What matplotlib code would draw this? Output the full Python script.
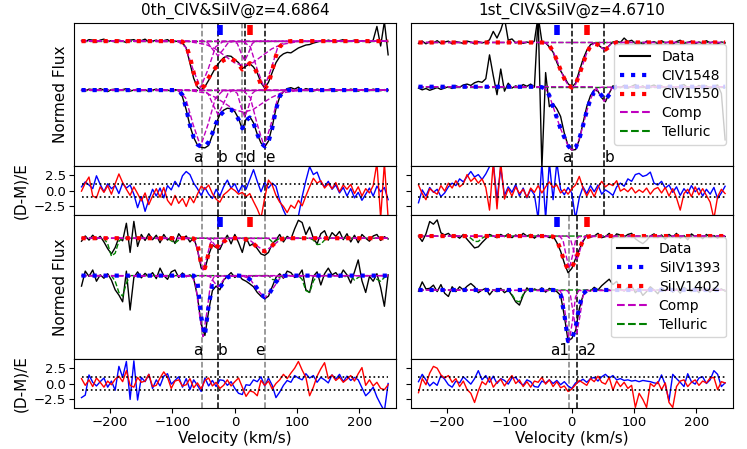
import numpy as np
import matplotlib
matplotlib.use('Agg')
import matplotlib.pyplot as plt

# velocity grid of the spectra (km/s)
vel = np.arange(-246, 247, 6)

# ---------------- 0th system, CIV ----------------
tl_dat_up = [2.01, 1.99, 2.03, 2.02, 1.98, 2.02, 2.04, 1.99, 2.01, 1.98,
             2.02, 2.00, 1.97, 2.02, 2.03, 1.99, 2.01, 2.04, 1.98, 2.00,
             2.02, 1.99, 2.01, 2.03, 1.98, 2.00, 1.99, 1.97, 1.86, 1.55,
             1.24, 1.06, 1.00, 1.07, 1.20, 1.34, 1.48, 1.58, 1.66, 1.70,
             1.69, 1.62, 1.56, 1.44, 1.49, 1.54, 1.47, 1.35, 1.15, 1.04,
             1.16, 1.36, 1.56, 1.68, 1.74, 1.77, 1.76, 1.81, 1.86, 1.89,
             1.92, 1.93, 1.96, 1.98, 2.01, 1.99, 2.02, 2.00, 1.98, 2.01,
             2.03, 1.99, 2.00, 2.02, 1.98, 2.01, 2.00, 1.97, 2.02, 2.30,
             1.90, 2.40, 1.72]
tl_dat_lo = [1.00, 0.98, 1.02, 1.01, 0.99, 1.03, 1.00, 0.97, 1.01, 1.02,
             0.99, 1.01, 1.03, 0.98, 1.00, 1.02, 0.99, 1.01, 0.97, 1.00,
             1.02, 0.99, 1.01, 1.00, 0.98, 1.01, 0.99, 0.86, 0.60, 0.27,
             0.03, -0.12, -0.17, -0.18, -0.13, 0.08, 0.32, 0.50, 0.59, 0.63,
             0.62, 0.56, 0.42, 0.20, 0.40, 0.46, 0.33, 0.10, -0.08, -0.16,
             -0.04, 0.25, 0.62, 0.86, 0.97, 1.03, 1.05, 1.02, 1.06, 0.99,
             1.03, 1.01, 0.98, 1.02, 1.00, 0.99, 1.01, 1.03, 0.98, 1.00,
             1.01, 0.99, 1.02, 1.00, 0.98, 1.01, 1.00, 0.99, 1.02, 1.00,
             0.99, 1.01, 1.00]
tl_mod_up = [2.0, 2.0, 2.0, 2.0, 2.0, 2.0, 2.0, 2.0, 2.0, 2.0,
             2.0, 2.0, 2.0, 2.0, 2.0, 2.0, 2.0, 2.0, 2.0, 2.0,
             2.0, 2.0, 2.0, 2.0, 2.0, 2.0, 2.0, 1.99, 1.90, 1.68,
             1.35, 1.10, 1.02, 1.10, 1.25, 1.38, 1.47, 1.55, 1.61, 1.64,
             1.64, 1.60, 1.53, 1.42, 1.47, 1.55, 1.50, 1.33, 1.10, 1.03,
             1.12, 1.40, 1.70, 1.88, 1.96, 1.99, 2.0, 2.0, 2.0, 2.0,
             2.0, 2.0, 2.0, 2.0, 2.0, 2.0, 2.0, 2.0, 2.0, 2.0,
             2.0, 2.0, 2.0, 2.0, 2.0, 2.0, 2.0, 2.0, 2.0, 2.0,
             2.0, 2.0, 2.0]
tl_mod_lo = [1.0, 1.0, 1.0, 1.0, 1.0, 1.0, 1.0, 1.0, 1.0, 1.0,
             1.0, 1.0, 1.0, 1.0, 1.0, 1.0, 1.0, 1.0, 1.0, 1.0,
             1.0, 1.0, 1.0, 1.0, 1.0, 1.0, 0.99, 0.90, 0.62, 0.28,
             0.03, -0.11, -0.16, -0.15, -0.06, 0.12, 0.33, 0.48, 0.56, 0.60,
             0.60, 0.54, 0.40, 0.22, 0.38, 0.44, 0.32, 0.10, -0.08, -0.15,
             -0.06, 0.22, 0.60, 0.87, 0.97, 1.0, 1.0, 1.0, 1.0, 1.0,
             1.0, 1.0, 1.0, 1.0, 1.0, 1.0, 1.0, 1.0, 1.0, 1.0,
             1.0, 1.0, 1.0, 1.0, 1.0, 1.0, 1.0, 1.0, 1.0, 1.0,
             1.0, 1.0, 1.0]
tl_comp_v = [[-246, -91, -79, -67, -55, -43, -31, -19, 246],
             [-246, -51, -43, -35, -27, -19, -11, -3, 246],
             [-246, -76, -46, -31, -16, -1, 14, 29, 44, 59, 74, 104, 246],
             [-246, -2, 4, 10, 16, 22, 28, 34, 246],
             [-246, 14, 25, 36, 47, 58, 69, 80, 246]]
tl_comp_up = [[2, 1.99, 1.88, 1.42, 1.05, 1.42, 1.88, 1.99, 2],
              [2, 2.0, 1.96, 1.82, 1.70, 1.82, 1.96, 2.0, 2],
              [2, 1.995, 1.93, 1.84, 1.70, 1.56, 1.50, 1.56, 1.70, 1.84, 1.93, 1.995, 2],
              [2, 2.0, 1.95, 1.76, 1.60, 1.76, 1.95, 2.0, 2],
              [2, 1.99, 1.88, 1.42, 1.05, 1.42, 1.88, 1.99, 2]]
tl_comp_lo = [[1, 0.99, 0.84, 0.30, -0.15, 0.30, 0.84, 0.99, 1],
              [1, 1.0, 0.93, 0.70, 0.50, 0.70, 0.93, 1.0, 1],
              [1, 0.995, 0.94, 0.85, 0.73, 0.60, 0.55, 0.60, 0.73, 0.85, 0.94, 0.995, 1],
              [1, 1.0, 0.93, 0.66, 0.45, 0.66, 0.93, 1.0, 1],
              [1, 0.99, 0.84, 0.30, -0.15, 0.30, 0.84, 0.99, 1]]
tl_tel_v = [-246, 246]
tl_tel_up = [2.0, 2.0]
tl_tel_lo = [1.0, 1.0]
tl_res_b = [0.6, 1.4, 0.9, 0.3, 2.4, 1.0, -0.2, 1.1, 0.3, 0.8,
            -0.5, 1.2, 0.4, 0.9, -0.6, -2.8, -1.0, -3.4, -1.5, 0.2,
            -0.9, 0.4, -1.2, 0.8, 0.1, 1.5, 0.6, 2.4, 3.1, 2.6,
            1.2, 0.3, -0.8, 0.5, -0.6, -1.3, 0.2, -0.9, 0.6, 1.7,
            0.4, 1.1, -0.3, 0.9, 0.2, 1.8, 3.4, 1.5, -0.2, 1.3,
            0.4, 1.2, 0.7, -1.6, -3.2, -4.5, -4.6, -4.5, -4.2, -1.0,
            1.6, 3.9, 2.6, 3.0, 1.4, 0.6, 1.5, 0.2, 0.9, -0.4,
            0.5, -0.9, 0.3, -1.2, -0.3, -1.6, -0.6, 0.4, -0.9, 0.7,
            -0.2, 0.5, -1.5]
tl_res_r = [-0.1, 1.2, 2.2, -0.9, -1.2, 0.6, -0.3, 0.8, -0.6, 1.1,
            2.7, 1.3, 0.2, -0.8, 0.6, -0.5, -1.7, -0.4, -2.3, -0.9,
            0.3, -1.1, 0.5, -1.6, -2.4, -0.8, -2.1, -1.3, -2.6, -1.0,
            -2.0, -0.6, 0.7, 0.2, 0.9, -0.5, -1.4, -1.9, -0.7, -0.2,
            0.4, 0.0, -0.6, -0.3, -1.0, -0.5, -1.8, -3.0, -4.5, -1.2,
            1.7, 0.9, -0.8, -1.9, -2.6, -3.6, -2.4, -2.9, -1.6, -2.5,
            -0.9, 0.6, 2.0, 1.2, 1.6, 0.4, 1.1, 0.3, 1.3, -0.2,
            0.9, 0.2, 1.0, -0.5, 0.6, -0.9, 0.3, -0.4, 0.8, 4.5,
            -4.5, 4.5, -4.5]
tl_lines = [-52, -27, 12, 16, 48]
tl_names = ['a', 'b', 'c', 'd', 'e']
tl_colors = ['gray', 'k', 'gray', 'k', 'k']
tl_ha = ['right', 'left', 'right', 'left', 'left']

# ---------------- 1st system, CIV ----------------
tr_dat_up = [1.98, 2.03, 1.97, 2.02, 1.99, 2.04, 1.98, 2.01, 2.03, 1.97,
             2.02, 2.00, 1.98, 2.03, 2.01, 1.97, 2.02, 1.99, 2.01, 2.06,
             2.25, 2.10, 2.28, 2.55, 2.05, 2.08, 1.99, 2.02, 1.98, 2.01,
             1.99, 2.03, 2.60, 2.02, 1.99, 1.90, 1.78, 1.55, 1.36, 1.22,
             1.07, 0.99, 1.08, 1.35, 1.62, 1.82, 1.95, 1.99, 1.95, 1.88,
             1.84, 1.93, 2.01, 2.03, 2.00, 2.10, 2.02, 2.05, 1.98, 2.01,
             1.96, 2.03, 1.99, 2.02, 1.97, 2.04, 1.99, 2.01, 1.96, 2.02,
             2.05, 1.98, 2.00, 2.03, 1.97, 2.01, 1.98, 2.04, 1.99, 2.02,
             1.97, 2.01, 1.99]
tr_dat_lo = [0.97, 0.93, 0.96, 0.92, 0.95, 0.98, 0.94, 0.97, 1.00, 0.96,
             1.02, 0.99, 1.04, 1.06, 1.03, 1.09, 1.12, 1.10, 1.18, 1.72,
             1.25, 0.82, 1.40, 0.90, 1.08, 0.97, 1.02, 0.98, 1.05, 1.01,
             1.06, 0.99, 2.60, -0.85, 1.32, 0.55, 0.62, 0.50, 0.33, -0.05,
             -0.33, -0.43, -0.42, -0.20, 0.18, 0.55, 0.80, 0.93, 0.90, 0.75,
             0.66, 0.85, 1.02, 1.00, 0.98, 1.03, 0.97, 1.01, 1.05, 0.98,
             1.02, 0.96, 1.01, 1.04, 0.99, 1.02, 0.97, 1.03, 1.00, 0.96,
             1.02, 1.05, 0.98, 1.01, 0.97, 1.03, 0.99, 1.02, 0.96, 1.01,
             1.04, 0.85, -0.20]
tr_mod_up = [2.0, 2.0, 2.0, 2.0, 2.0, 2.0, 2.0, 2.0, 2.0, 2.0,
             2.0, 2.0, 2.0, 2.0, 2.0, 2.0, 2.0, 2.0, 2.0, 2.0,
             2.0, 2.0, 2.0, 2.0, 2.0, 2.0, 2.0, 2.0, 2.0, 2.0,
             2.0, 2.0, 2.0, 2.0, 1.99, 1.93, 1.80, 1.60, 1.38, 1.18,
             1.04, 0.98, 1.05, 1.27, 1.52, 1.76, 1.92, 1.97, 1.95, 1.88,
             1.84, 1.90, 1.97, 2.0, 2.0, 2.0, 2.0, 2.0, 2.0, 2.0,
             2.0, 2.0, 2.0, 2.0, 2.0, 2.0, 2.0, 2.0, 2.0, 2.0,
             2.0, 2.0, 2.0, 2.0, 2.0, 2.0, 2.0, 2.0, 2.0, 2.0,
             2.0, 2.0, 2.0]
tr_mod_lo = [1.0, 1.0, 1.0, 1.0, 1.0, 1.0, 1.0, 1.0, 1.0, 1.0,
             1.0, 1.0, 1.0, 1.0, 1.0, 1.0, 1.0, 1.0, 1.0, 1.0,
             1.0, 1.0, 1.0, 1.0, 1.0, 1.0, 1.0, 1.0, 1.0, 1.0,
             1.0, 1.0, 1.0, 0.99, 0.95, 0.80, 0.55, 0.30, 0.05, -0.14,
             -0.33, -0.43, -0.38, -0.18, 0.12, 0.45, 0.72, 0.88, 0.90, 0.80,
             0.70, 0.82, 0.95, 1.0, 1.0, 1.0, 1.0, 1.0, 1.0, 1.0,
             1.0, 1.0, 1.0, 1.0, 1.0, 1.0, 1.0, 1.0, 1.0, 1.0,
             1.0, 1.0, 1.0, 1.0, 1.0, 1.0, 1.0, 1.0, 1.0, 1.0,
             1.0, 1.0, 1.0]
tr_comp_v = [[-246, -48, -42, -36, -30, -24, -18, -12, -6, 0, 6, 12, 18, 24, 30, 36, 42, 48, 246],
             [-246, 34, 40, 46, 52, 58, 64, 70, 246]]
tr_comp_up = [[2, 2.0, 1.99, 1.93, 1.80, 1.60, 1.38, 1.18, 1.04, 0.98, 1.05, 1.27, 1.52, 1.76, 1.92, 1.98, 2.0, 2.0, 2],
              [2, 2.0, 1.98, 1.90, 1.84, 1.90, 1.98, 2.0, 2]]
tr_comp_lo = [[1, 0.99, 0.95, 0.80, 0.55, 0.30, 0.05, -0.14, -0.33, -0.43, -0.38, -0.18, 0.12, 0.45, 0.72, 0.90, 0.97, 0.99, 1],
              [1, 1.0, 0.96, 0.80, 0.67, 0.80, 0.96, 1.0, 1]]
tr_tel_v = [-246, 246]
tr_tel_up = [2.0, 2.0]
tr_tel_lo = [1.0, 1.0]
tr_res_b = [-2.0, 0.1, -0.9, 0.5, -0.3, 0.2, -1.0, -0.4, 0.6, 1.2,
            0.8, 1.9, 1.4, 2.3, 3.1, 2.2, 2.6, 1.8, 2.7, 3.9,
            4.6, -1.5, 3.7, -0.8, 0.6, -0.3, 1.0, -0.9, 0.4, -1.2,
            0.2, -0.7, -4.6, 4.6, -4.6, 4.6, -1.5, 4.6, 0.2, -0.7,
            0.5, -0.4, -4.6, -1.2, 0.6, -0.5, 0.8, -0.2, 0.9, -0.6,
            0.1, -0.3, -0.8, 0.6, 1.2, 0.7, 1.9, 1.5, 2.6, 2.8,
            2.3, 2.5, 3.0, 1.2, 0.9, 1.5, 0.4, 0.9, -0.3, 0.6,
            -0.8, 0.3, -0.5, 0.8, -0.2, 0.4, -0.9, 0.2, -0.6, 0.5,
            -1.3, -0.4, 0.7]
tr_res_r = [0.9, -0.5, -1.5, 0.3, -0.2, -0.6, 0.8, -0.1, 1.2, 0.4,
            1.6, 0.6, 1.1, 2.6, 1.5, 2.1, 1.2, 1.9, 0.5, -3.2,
            4.6, -3.0, 4.6, -1.4, 0.3, -0.9, 0.6, -0.5, 0.2, -1.1,
            0.4, -0.3, 0.8, -0.4, 0.6, 1.4, 0.5, 0.9, -0.4, 0.2,
            -0.6, 0.3, 0.9, 2.3, 0.4, -0.9, 0.2, -1.0, 0.5, 1.5,
            0.6, 1.1, 0.8, 1.6, -0.1, 0.3, -0.2, 0.5, -0.4, 0.1,
            -0.3, 0.4, -0.6, 0.2, 0.5, -0.4, 0.5, -0.9, 0.3, -1.2,
            -3.2, -0.5, 0.2, -1.0, 0.6, -0.7, 0.3, -0.8, -1.9, -4.6,
            -1.0, 0.2, -0.5]
tr_lines = [0, 52]
tr_names = ['a', 'b']
tr_colors = ['k', 'k']
tr_ha = ['right', 'left']

# ---------------- 0th system, SiIV ----------------
bl_dat_up = [1.92, 2.06, 1.95, 2.08, 1.97, 2.05, 1.90, 1.72, 1.58, 1.75,
             2.02, 1.93, 2.40, 1.62, 2.45, 1.78, 2.10, 1.94, 2.12, 1.96,
             2.08, 1.88, 2.10, 1.95, 2.04, 1.86, 2.12, 1.98, 2.06, 1.90,
             2.02, 1.70, 1.20, 1.18, 1.55, 1.82, 1.75, 1.70, 1.92, 2.08,
             1.85, 2.10, 1.88, 1.62, 2.02, 1.80, 1.86, 1.72, 1.58, 1.54,
             1.62, 1.85, 1.95, 2.10, 1.90, 2.05, 1.98, 2.25, 2.48, 2.42,
             2.10, 2.30, 2.00, 1.85, 2.12, 2.20, 1.95, 2.15, 2.05, 2.18,
             1.96, 2.12, 1.90, 2.08, 1.88, 2.10, 2.00, 1.92, 2.06, 2.10,
             1.94, 2.04, 1.98]
bl_dat_lo = [0.72, 1.12, 0.98, 1.15, 0.85, 1.02, 0.93, 1.05, 0.88, 0.62,
             0.48, 0.30, 1.12, 0.08, 0.95, 1.10, 0.94, 1.06, 0.97, 1.08,
             0.92, 1.20, 1.00, 0.90, 1.10, 1.15, 0.95, 1.07, 0.97, 1.02,
             0.92, 0.45, -0.30, -0.60, 0.05, 0.60, 0.72, 0.62, 0.88, 0.98,
             1.08, 0.95, 1.02, 0.90, 0.85, 0.78, 0.70, 0.55, 0.45, 0.38,
             0.45, 0.70, 0.95, 1.05, 0.93, 1.12, 1.08, 0.95, 1.00, 1.15,
             0.62, 0.55, 0.98, 1.10, 0.75, 1.05, 1.20, 1.02, 1.08, 0.95,
             1.15, 1.02, 0.80, 1.10, 1.42, 0.86, 0.55, 0.98, 0.85, 1.05,
             0.68, 0.18, 1.02]
bl_mod_up = [2.0, 2.0, 2.0, 2.0, 2.0, 2.0, 2.0, 2.0, 2.0, 2.0,
             2.0, 2.0, 2.0, 2.0, 2.0, 2.0, 2.0, 2.0, 2.0, 2.0,
             2.0, 2.0, 2.0, 2.0, 2.0, 2.0, 2.0, 2.0, 2.0, 2.0,
             1.99, 1.85, 1.30, 1.20, 1.60, 1.90, 1.80, 1.75, 1.90, 1.98,
             2.0, 2.0, 2.0, 1.99, 1.97, 1.92, 1.85, 1.76, 1.68, 1.65,
             1.70, 1.80, 1.90, 1.96, 1.99, 2.0, 2.0, 2.0, 2.0, 2.0,
             2.0, 2.0, 2.0, 2.0, 2.0, 2.0, 2.0, 2.0, 2.0, 2.0,
             2.0, 2.0, 2.0, 2.0, 2.0, 2.0, 2.0, 2.0, 2.0, 2.0,
             2.0, 2.0, 2.0]
bl_mod_lo = [1.0, 1.0, 1.0, 1.0, 1.0, 1.0, 1.0, 1.0, 1.0, 1.0,
             1.0, 1.0, 1.0, 1.0, 1.0, 1.0, 1.0, 1.0, 1.0, 1.0,
             1.0, 1.0, 1.0, 1.0, 1.0, 1.0, 1.0, 1.0, 1.0, 1.0,
             1.0, 0.85, -0.10, -0.60, 0.20, 0.72, 0.72, 0.68, 0.82, 0.95,
             0.99, 1.0, 1.0, 0.99, 0.96, 0.90, 0.80, 0.65, 0.50, 0.42,
             0.48, 0.65, 0.83, 0.94, 0.99, 1.0, 1.0, 1.0, 1.0, 1.0,
             1.0, 1.0, 1.0, 1.0, 1.0, 1.0, 1.0, 1.0, 1.0, 1.0,
             1.0, 1.0, 1.0, 1.0, 1.0, 1.0, 1.0, 1.0, 1.0, 1.0,
             1.0, 1.0, 1.0]
bl_comp_v = [[-246, -69, -63, -57, -51, -45, -39, -33, 246],
             [-246, -45, -39, -33, -27, -21, -15, -9, 246],
             [-246, 12, 24, 36, 48, 60, 72, 84, 246]]
bl_comp_up = [[2, 1.99, 1.88, 1.48, 1.15, 1.48, 1.88, 1.99, 2],
              [2, 2.0, 1.96, 1.84, 1.73, 1.84, 1.96, 2.0, 2],
              [2, 2.0, 1.95, 1.79, 1.65, 1.79, 1.95, 2.0, 2]]
bl_comp_lo = [[1, 0.98, 0.78, 0.0, -0.63, 0.0, 0.78, 0.98, 1],
              [1, 1.0, 0.96, 0.82, 0.70, 0.82, 0.96, 1.0, 1],
              [1, 0.99, 0.92, 0.63, 0.40, 0.63, 0.92, 0.99, 1]]
bl_tel_v = vel
bl_tel_up = [2.0, 2.0, 2.0, 2.0, 2.0, 2.0, 2.0, 1.85, 1.52, 1.60,
             1.92, 2.0, 2.0, 2.0, 2.0, 2.0, 2.0, 2.0, 2.0, 2.0,
             2.0, 2.0, 2.0, 2.0, 1.93, 1.87, 1.95, 2.0, 2.0, 2.0,
             2.0, 2.0, 2.0, 2.0, 2.0, 2.0, 2.0, 2.0, 2.0, 2.0,
             2.0, 2.0, 2.0, 2.0, 2.0, 2.0, 2.0, 2.0, 2.0, 2.0,
             2.0, 1.90, 1.93, 2.0, 2.0, 2.0, 2.0, 2.0, 2.0, 2.0,
             2.0, 2.0, 1.95, 1.83, 1.84, 1.95, 2.0, 2.0, 2.0, 2.0,
             2.0, 2.0, 2.0, 2.0, 2.0, 2.0, 2.0, 2.0, 2.0, 2.0,
             2.0, 2.0, 2.0]
bl_tel_lo = [1.0, 1.0, 1.0, 1.0, 1.0, 1.0, 1.0, 1.0, 1.0, 0.85,
             0.55, 0.45, 0.80, 1.0, 1.0, 1.0, 1.0, 1.0, 1.0, 1.0,
             1.0, 1.0, 1.0, 1.0, 1.0, 1.0, 1.0, 1.0, 1.0, 1.0,
             1.0, 1.0, 1.0, 1.0, 1.0, 1.0, 1.0, 1.0, 1.0, 1.0,
             1.0, 1.0, 1.0, 1.0, 1.0, 0.93, 1.0, 1.0, 1.0, 1.0,
             1.0, 0.90, 0.88, 0.96, 1.0, 1.0, 1.0, 1.0, 1.0, 0.90,
             0.60, 0.55, 0.85, 1.0, 1.0, 1.0, 1.0, 1.0, 1.0, 1.0,
             0.95, 1.0, 1.0, 0.88, 0.95, 1.0, 1.0, 1.0, 1.0, 0.90,
             0.85, 0.95, 1.0]
bl_res_b = [-2.3, -1.9, 1.4, 0.2, -0.4, 0.3, 0.9, -0.6, 0.4, -1.1,
            2.8, 1.0, 3.6, -2.6, 3.7, -2.7, 1.0, 0.3, 1.5, -0.8,
            0.6, -0.4, 1.2, 1.6, -0.1, 0.5, 1.1, -0.6, 0.8, -1.0,
            0.6, -0.3, -1.3, 0.9, -0.4, 0.5, -0.5, 0.6, 0.5, -0.3,
            0.3, -0.8, -1.6, -1.8, -0.2, -0.3, 0.6, 0.3, 1.1, -0.4,
            0.9, -0.3, -2.3, -1.4, -0.3, 0.5, 0.2, 1.3, 0.9, 0.6,
            1.6, 0.9, 1.3, 0.2, 1.0, 0.6, 0.1, 1.4, 0.7, 1.5,
            0.3, 1.2, 0.5, 1.0, 0.6, -0.7, -2.0, -1.4, -0.6, -2.2,
            -3.4, -4.5, 0.0]
bl_res_r = [0.8, -0.3, 0.6, -0.5, 0.9, 0.2, -0.6, 0.4, -0.2, 0.7,
            1.2, 0.3, 2.1, -0.3, -0.6, 1.0, 0.2, 0.4, 1.5, -0.5,
            -0.3, 0.9, 1.9, 1.0, -0.8, 0.4, 0.6, -0.4, -0.2, 0.8,
            -0.7, 0.1, -0.9, 0.5, 0.9, -0.4, 0.2, -0.8, -0.3, 0.6,
            -0.4, 0.3, 0.9, -0.6, -2.1, -1.2, -1.4, -2.0, 0.5, -0.3,
            0.4, -0.9, 0.0, 0.6, 1.5, 0.8, 1.7, 2.5, 3.6, 2.2,
            1.0, -2.0, -0.6, 1.2, 2.4, 3.4, 0.8, 1.4, 0.5, 1.0,
            0.2, 0.7, 1.3, 0.4, 1.6, 2.6, -0.3, 0.6, -0.4, 0.2,
            -0.8, -1.0, -0.2]
bl_lines = [-52, -27, 48]
bl_names = ['a', 'b', 'e']
bl_colors = ['gray', 'k', 'gray']
bl_ha = ['right', 'left', 'right']

# ---------------- 1st system, SiIV ----------------
br_dat_up = [2.00, 1.90, 2.04, 2.27, 2.22, 2.30, 2.06, 2.02, 2.05, 1.98,
             2.01, 1.96, 2.03, 1.94, 1.86, 1.78, 1.80, 1.88, 1.95, 2.03,
             2.00, 1.97, 2.03, 1.99, 2.04, 1.97, 2.02, 1.98, 2.05, 2.00,
             2.03, 1.96, 2.02, 1.98, 2.01, 1.97, 2.00, 1.88, 1.72, 1.50,
             1.32, 1.40, 1.58, 1.75, 1.90, 2.02, 1.98, 2.00, 2.05, 1.97,
             1.99, 2.05, 1.96, 2.04, 2.02, 1.98, 2.03, 2.05, 1.95, 1.90,
             1.86, 1.92, 2.00, 2.04, 1.97, 2.02, 1.94, 2.03, 1.98, 2.05,
             1.96, 2.01, 1.93, 2.04, 1.99, 2.02, 1.95, 2.03, 1.98, 2.01,
             1.96, 2.02, 1.99]
br_dat_lo = [0.98, 1.15, 1.02, 1.03, 1.09, 0.97, 1.10, 0.94, 0.88, 1.06,
             0.97, 1.06, 1.00, 1.07, 1.12, 1.06, 0.95, 1.00, 1.03, 0.91,
             1.00, 0.97, 1.03, 0.95, 1.00, 0.90, 0.78, 0.72, 0.90, 1.04,
             0.97, 1.02, 0.99, 1.04, 0.96, 1.03, 1.00, 0.97, 0.90, 0.52,
             0.06, 0.10, 0.25, 0.65, 0.90, 1.00, 0.98, 1.05, 1.00, 1.08,
             1.14, 1.20, 1.10, 1.16, 1.02, 0.98, 1.05, 1.08, 0.95, 1.02,
             0.90, 0.97, 1.06, 1.00, 0.93, 1.04, 0.98, 1.07, 0.96, 1.02,
             0.94, 1.05, 1.00, 0.97, 1.03, 0.95, 1.06, 1.00, 0.96, 1.04,
             0.99, 1.02, 0.98]
br_mod_up = [2.0, 2.0, 2.0, 2.0, 2.0, 2.0, 2.0, 2.0, 2.0, 2.0,
             2.0, 2.0, 2.0, 2.0, 2.0, 2.0, 2.0, 2.0, 2.0, 2.0,
             2.0, 2.0, 2.0, 2.0, 2.0, 2.0, 2.0, 2.0, 2.0, 2.0,
             2.0, 2.0, 2.0, 2.0, 2.0, 2.0, 1.99, 1.92, 1.75, 1.52,
             1.38, 1.42, 1.55, 1.75, 1.92, 1.98, 2.0, 2.0, 2.0, 2.0,
             2.0, 2.0, 2.0, 2.0, 2.0, 2.0, 2.0, 2.0, 2.0, 2.0,
             2.0, 2.0, 2.0, 2.0, 2.0, 2.0, 2.0, 2.0, 2.0, 2.0,
             2.0, 2.0, 2.0, 2.0, 2.0, 2.0, 2.0, 2.0, 2.0, 2.0,
             2.0, 2.0, 2.0]
br_mod_lo = [1.0, 1.0, 1.0, 1.0, 1.0, 1.0, 1.0, 1.0, 1.0, 1.0,
             1.0, 1.0, 1.0, 1.0, 1.0, 1.0, 1.0, 1.0, 1.0, 1.0,
             1.0, 1.0, 1.0, 1.0, 1.0, 1.0, 1.0, 1.0, 1.0, 1.0,
             1.0, 1.0, 1.0, 1.0, 1.0, 1.0, 1.0, 0.99, 0.92, 0.55,
             0.05, 0.08, 0.30, 0.70, 0.93, 0.99, 1.0, 1.0, 1.0, 1.0,
             1.0, 1.0, 1.0, 1.0, 1.0, 1.0, 1.0, 1.0, 1.0, 1.0,
             1.0, 1.0, 1.0, 1.0, 1.0, 1.0, 1.0, 1.0, 1.0, 1.0,
             1.0, 1.0, 1.0, 1.0, 1.0, 1.0, 1.0, 1.0, 1.0, 1.0,
             1.0, 1.0, 1.0]
br_comp_v = [[-246, -19, -14, -9, -4, 1, 6, 11, 246],
             [-246, -7, -2, 3, 8, 13, 18, 23, 246]]
br_comp_up = [[2, 1.99, 1.92, 1.63, 1.40, 1.63, 1.92, 1.99, 2],
              [2, 2.0, 1.94, 1.73, 1.55, 1.73, 1.94, 2.0, 2]]
br_comp_lo = [[1, 0.99, 0.87, 0.42, 0.05, 0.42, 0.87, 0.99, 1],
              [1, 0.99, 0.89, 0.51, 0.20, 0.51, 0.89, 0.99, 1]]
br_tel_v = vel
br_tel_up = [2.0, 2.0, 2.0, 2.0, 2.0, 2.0, 2.0, 2.0, 2.0, 2.0,
             2.0, 2.0, 2.0, 2.0, 1.96, 1.90, 1.90, 1.96, 2.0, 2.0,
             2.0, 2.0, 2.0, 2.0, 2.0, 2.0, 2.0, 2.0, 2.0, 2.0,
             2.0, 2.0, 2.0, 2.0, 2.0, 2.0, 2.0, 2.0, 2.0, 2.0,
             2.0, 2.0, 2.0, 2.0, 2.0, 2.0, 2.0, 2.0, 2.0, 2.0,
             2.0, 2.0, 2.0, 2.0, 2.0, 2.0, 2.0, 2.0, 2.0, 2.0,
             2.0, 2.0, 2.0, 2.0, 2.0, 2.0, 2.0, 2.0, 2.0, 2.0,
             2.0, 2.0, 2.0, 2.0, 2.0, 2.0, 2.0, 2.0, 2.0, 2.0,
             2.0, 2.0, 2.0]
br_tel_lo = [1.0, 1.0, 1.0, 1.0, 1.0, 1.0, 1.0, 1.0, 1.0, 1.0,
             1.0, 1.0, 1.0, 1.0, 1.0, 1.0, 1.0, 1.0, 1.0, 1.0,
             1.0, 1.0, 1.0, 1.0, 1.0, 0.92, 0.80, 0.78, 0.92, 1.0,
             1.0, 1.0, 1.0, 1.0, 1.0, 1.0, 1.0, 1.0, 1.0, 1.0,
             1.0, 1.0, 1.0, 1.0, 1.0, 1.0, 1.0, 1.0, 1.0, 1.0,
             1.0, 1.0, 1.0, 1.0, 1.0, 1.0, 1.0, 1.0, 1.0, 1.0,
             1.0, 1.0, 1.0, 1.0, 1.0, 1.0, 1.0, 1.0, 1.0, 1.0,
             1.0, 1.0, 1.0, 1.0, 1.0, 1.0, 1.0, 1.0, 1.0, 1.0,
             1.0, 1.0, 1.0]
br_res_b = [0.3, 1.5, 0.6, -0.4, 0.2, -0.3, 1.3, 0.7, -0.2, -0.6,
            0.4, 0.1, 1.1, 0.5, -0.1, 0.8, 2.1, 0.6, 1.3, 0.2,
            1.2, 0.0, 0.8, 0.5, -0.1, 0.9, 1.0, 0.2, -0.3, 0.6,
            0.3, -0.5, -0.6, 0.4, 0.1, 0.6, 0.0, 0.5, -0.2, 0.3,
            -0.4, -0.8, 0.1, 0.3, 0.7, 0.2, 0.8, 1.0, 0.4, 1.1,
            1.5, 0.9, 1.3, 0.6, 0.8, 0.5, 0.6, 0.4, 0.5, 0.3,
            0.5, 0.4, 0.3, 0.1, 0.0, 1.4, -0.2, -2.8, 1.5, 0.8,
            0.2, -0.5, 1.6, 0.3, -0.1, 0.9, 1.1, 0.0, 0.6, 2.1,
            1.5, -0.5, 0.1]
br_res_r = [-1.5, 0.8, -0.2, 1.7, 2.8, 2.5, 1.4, 0.9, 1.3, 0.2,
            0.8, -0.5, 0.4, -1.0, -1.6, -3.1, -1.2, 0.3, -0.2, 1.0,
            -0.6, 0.2, 0.7, -0.4, 0.5, 1.3, 0.0, 0.6, -0.5, 0.3,
            -0.6, 0.4, 0.2, 1.0, -0.1, 0.6, -0.5, 0.3, -0.7, -0.4,
            -1.3, -0.9, -0.2, 0.5, 0.1, -0.3, 0.8, 0.3, 1.2, 0.2,
            -0.1, 1.0, -1.1, 0.4, -0.5, 0.2, -0.8, -0.3, -3.9, -1.6,
            -2.6, -3.9, 0.0, -0.5, 0.3, -1.0, 0.1, -3.1, -3.9, -0.5,
            0.4, 0.6, -0.5, 0.2, 0.6, -0.3, 0.4, 0.1, 0.9, 1.0,
            -1.0, 0.3, 0.1]
br_lines = [-4, 8]
br_names = ['a1', 'a2']
br_colors = ['gray', 'k']
br_ha = ['right', 'left']

marker_v = [-24.5, 24.5]
marker_c = ['b', 'r']


def draw_flux(ax, dat_up, dat_lo, mod_up, mod_lo, comp_v, comp_up, comp_lo,
              tel_v, tel_up, tel_lo, lines, names, colors, has, ylim, ions):
    h = {}
    h['Data'], = ax.plot(vel, dat_up, color='k', lw=1, zorder=1)
    ax.plot(vel, dat_lo, color='k', lw=1, zorder=1)
    h['Telluric'], = ax.plot(tel_v, tel_up, 'g--', lw=1, zorder=2)
    ax.plot(tel_v, tel_lo, 'g--', lw=1, zorder=2)
    for cv, cu, cl in zip(comp_v, comp_up, comp_lo):
        h['Comp'], = ax.plot(cv, cu, 'm--', lw=1, zorder=2)
        ax.plot(cv, cl, 'm--', lw=1, zorder=2)
    h[ions[0]], = ax.plot(vel, mod_lo, 'b:', lw=3, zorder=3)
    h[ions[1]], = ax.plot(vel, mod_up, 'r:', lw=3, zorder=3)
    for v, n, c, ha in zip(lines, names, colors, has):
        ax.axvline(v, color=c, ls='--', lw=1.1, zorder=0)
        ax.text(v, 0.005, n, transform=ax.get_xaxis_transform(), ha=ha,
                va='bottom', fontsize=11)
    ax.vlines(marker_v, 0.915, 0.985, transform=ax.get_xaxis_transform(),
              colors=marker_c, lw=4)
    ax.set_ylim(*ylim)
    ax.set_xlim(-258, 258)
    ax.set_yticks([])
    ax.tick_params(bottom=False, labelbottom=False)
    return h


def draw_res(ax, res_b, res_r, lines, colors, bottom):
    ax.plot(vel, res_b, 'b', lw=1)
    ax.plot(vel, res_r, 'r', lw=1)
    ax.hlines([1, -1], vel[0], vel[-1], colors='k', linestyles=':', lw=1.2)
    for v, c in zip(lines, colors):
        ax.axvline(v, color=c, ls='--', lw=1.1, zorder=0)
    ax.set_ylim(-4, 4)
    ax.set_xlim(-258, 258)
    ax.set_yticks([-2.5, 0, 2.5])
    ax.tick_params(labelsize=9.5, pad=2.5)
    if not bottom:
        ax.tick_params(bottom=False, labelbottom=False)
    else:
        ax.set_xticks([-200, -100, 0, 100, 200])
        ax.set_xlabel('Velocity (km/s)', fontsize=11, labelpad=1)


fig = plt.figure(figsize=(7.47, 4.49), dpi=100)
cols = [0.0991, 0.5502]
w = 0.4305
rows = [(0.6303, 0.3185), (0.5211, 0.1092), (0.2004, 0.3207), (0.0913, 0.1091)]

panels = [
    dict(col=0, row=0, title='0th_CIV&SiIV@z=4.6864', ions=['CIV1548', 'CIV1550'],
         flux=(tl_dat_up, tl_dat_lo, tl_mod_up, tl_mod_lo, tl_comp_v, tl_comp_up, tl_comp_lo,
               tl_tel_v, tl_tel_up, tl_tel_lo), res=(tl_res_b, tl_res_r),
         lines=tl_lines, names=tl_names, colors=tl_colors, ha=tl_ha, ylim=(-0.55, 2.37)),
    dict(col=1, row=0, title='1st_CIV&SiIV@z=4.6710', ions=['CIV1548', 'CIV1550'],
         flux=(tr_dat_up, tr_dat_lo, tr_mod_up, tr_mod_lo, tr_comp_v, tr_comp_up, tr_comp_lo,
               tr_tel_v, tr_tel_up, tr_tel_lo), res=(tr_res_b, tr_res_r),
         lines=tr_lines, names=tr_names, colors=tr_colors, ha=tr_ha, ylim=(-0.79, 2.44)),
    dict(col=0, row=2, title=None, ions=['SiIV1393', 'SiIV1402'],
         flux=(bl_dat_up, bl_dat_lo, bl_mod_up, bl_mod_lo, bl_comp_v, bl_comp_up, bl_comp_lo,
               bl_tel_v, bl_tel_up, bl_tel_lo), res=(bl_res_b, bl_res_r),
         lines=bl_lines, names=bl_names, colors=bl_colors, ha=bl_ha, ylim=(-1.23, 2.62)),
    dict(col=1, row=2, title=None, ions=['SiIV1393', 'SiIV1402'],
         flux=(br_dat_up, br_dat_lo, br_mod_up, br_mod_lo, br_comp_v, br_comp_up, br_comp_lo,
               br_tel_v, br_tel_up, br_tel_lo), res=(br_res_b, br_res_r),
         lines=br_lines, names=br_names, colors=br_colors, ha=br_ha, ylim=(-0.28, 2.39)),
]

for p in panels:
    x0 = cols[p['col']]
    fb, fh = rows[p['row']]
    rb, rh = rows[p['row'] + 1]
    axf = fig.add_axes([x0, fb, w, fh])
    axr = fig.add_axes([x0, rb, w, rh])
    h = draw_flux(axf, *p['flux'], p['lines'], p['names'], p['colors'], p['ha'],
                  p['ylim'], p['ions'])
    draw_res(axr, *p['res'], p['lines'], p['colors'], bottom=(p['row'] == 2))
    if p['title']:
        axf.set_title(p['title'], fontsize=11)
    if p['col'] == 0:
        axf.set_ylabel('Normed Flux', fontsize=11)
        axr.set_ylabel('(D-M)/E', fontsize=11)
    else:
        axr.tick_params(labelleft=False)
        order = ['Data'] + p['ions'] + ['Comp', 'Telluric']
        leg = axf.legend([h[k] for k in order], order, loc='center right',
                         fontsize=10, handlelength=2.2, labelspacing=0.35)
        for ln, lw in zip(leg.get_lines(), [1.5, 3, 3, 1.5, 1.5]):
            ln.set_linewidth(lw)

fig.savefig('out.png', dpi=100)
